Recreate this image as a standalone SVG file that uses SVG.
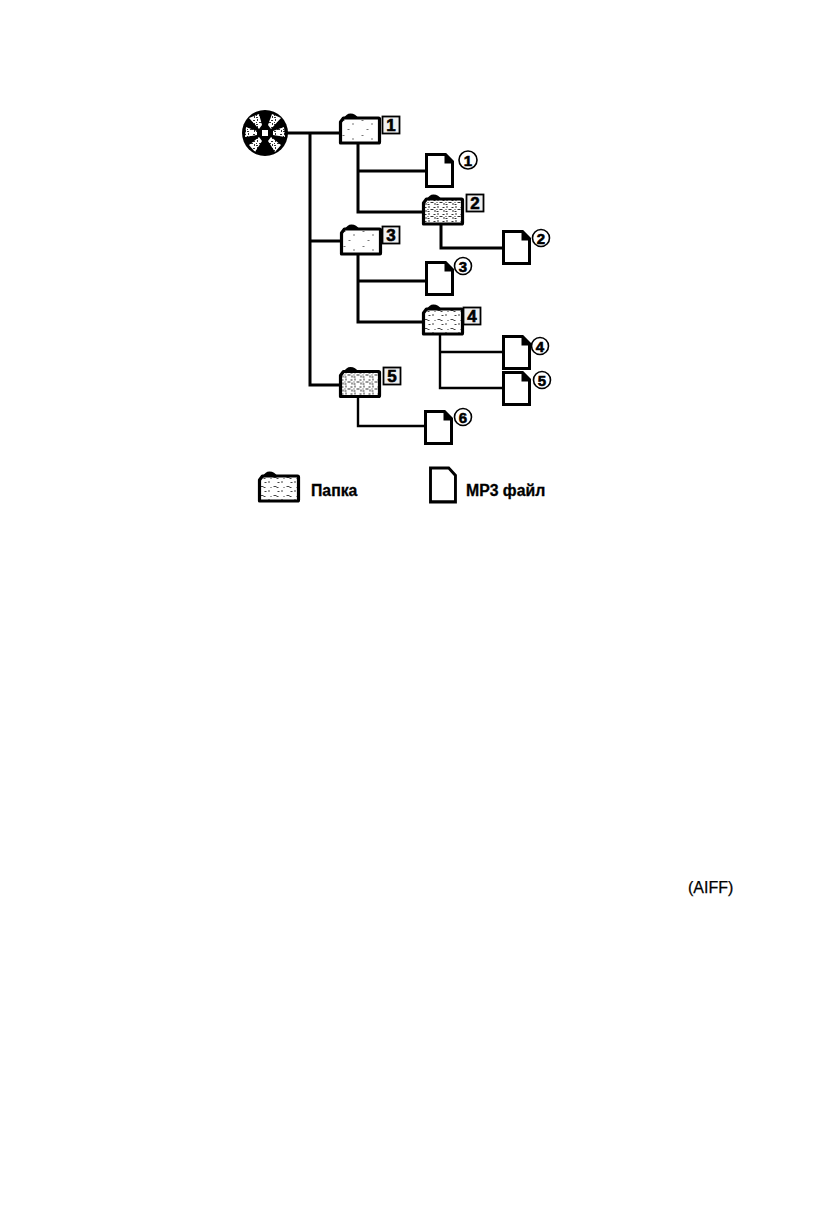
<svg xmlns="http://www.w3.org/2000/svg" width="830" height="1226" viewBox="0 0 830 1226">
<style>
.c{fill:none;stroke:#000;stroke-linecap:square}
.w3{stroke-width:3}
.w2{stroke-width:2.4}
.fo{stroke:#000;stroke-width:3.2;stroke-linejoin:round}
.fi{fill:#fff;stroke:#000;stroke-width:3;stroke-linejoin:miter}
.bx{fill:#f0f0f0;stroke:#000;stroke-width:1.8}
.ci{fill:#fff;stroke:#000;stroke-width:1.6}
.n{font-family:"Liberation Sans",Arial,sans-serif;font-weight:700;fill:#000;stroke:#000;stroke-width:.6;text-anchor:middle}
.t{font-family:"Liberation Sans",Arial,sans-serif;font-weight:700;fill:#000;stroke:#000;stroke-width:.3;font-size:15.8px}
</style>
<defs>
<pattern id="sp" width="9" height="7" patternUnits="userSpaceOnUse">
<rect width="9" height="7" fill="#fff"/>
<path d="M1 1h2v1H1zM5 0h1v2H5zM7 3h2v1H7zM2 4h1v2H2zM4 5h2v1H4zM0 3h1v1H0zM4 3h1v1H4z" fill="#333"/>
</pattern>
<pattern id="lt" width="19" height="15" patternUnits="userSpaceOnUse">
<rect width="19" height="15" fill="#fff"/>
<path d="M2 2h2v1H2zM12 5h1v2H12zM7 11h2v1H7z" fill="#777"/>
</pattern>
<pattern id="md" width="13" height="9" patternUnits="userSpaceOnUse">
<rect width="13" height="9" fill="#fff"/>
<path d="M1 1h3v1H1zM4 2h2v1H4zM9 5h1v2H9zM5 6h2v1H5zM11 2h1v1H11z" fill="#444"/>
</pattern>
<path id="fp" d="M0 25V4L3 0H38Q39 0 39 1V24Q39 25 38 25H1Q0 25 0 24Z"/>
<path id="tab" d="M3 1Q5.500 -4.500 10 -4.500Q15 -4.500 18 0.500H3Z" fill="#000"/>
<path id="dp" d="M0 0H19L26 7V32H0Z"/>
<path id="dc" d="M18 0H20L26 6V9H18Z" fill="#000"/>
</defs>

<g id="connectors">
<path class="c w3" d="M288 133H340M310 133V385H340M310 241H341"/>
<path class="c w3" d="M358 143V212H424M358 171H426"/>
<path class="c w3" d="M441 225V248H503"/>
<path class="c w3" d="M358 255V322H423M358 281H426"/>
<path class="c w2" d="M440 335V388H503M440 352H503"/>
<path class="c w2" d="M358 397V426H425"/>
</g>

<g id="disc">
<circle cx="265" cy="133" r="23" fill="#000"/>
<g fill="url(#sp)">
<path d="M262 125L259 114L249 118L259 129Z"/>
<path d="M268 125L272 114L281 118L271 129Z"/>
<path d="M257 131L246 127L245 137L257 135Z"/>
<path d="M273 131L284 127L285 137L273 135Z"/>
<path d="M259 137L249 145L255 152L262 141Z"/>
<path d="M271 137L281 145L275 152L268 141Z"/>
</g>
<rect x="262" y="130" width="6" height="6" fill="#fff"/>
</g>

<g id="folder-1" transform="translate(340.500 118)"><use href="#tab"/><use href="#fp" class="fo" fill="url(#lt)"/></g>
<g id="label-1"><rect class="bx" x="382.500" y="116.500" width="17" height="17"/><text class="n" x="391" y="131" font-size="17">1</text></g>

<g id="file-1" transform="translate(426.500 154.500)"><use href="#dp" class="fi"/><use href="#dc"/></g>
<g id="num-1"><circle class="ci" cx="468" cy="160" r="9"/><text class="n" x="468" y="165.500" font-size="15">1</text></g>

<g id="folder-2" transform="translate(423.500 199)"><use href="#tab"/><use href="#fp" class="fo" fill="url(#sp)"/></g>
<g id="label-2"><rect class="bx" x="466.500" y="194.500" width="17" height="17"/><text class="n" x="475" y="209" font-size="17">2</text></g>

<g id="file-2" transform="translate(503.500 231.500)"><use href="#dp" class="fi"/><use href="#dc"/></g>
<g id="num-2"><circle class="ci" cx="541" cy="238" r="8.500"/><text class="n" x="541" y="243.500" font-size="15">2</text></g>

<g id="folder-3" transform="translate(341.500 229)"><use href="#tab"/><use href="#fp" class="fo" fill="url(#lt)"/></g>
<g id="label-3"><rect class="bx" x="382.500" y="226.500" width="17" height="17"/><text class="n" x="391" y="241" font-size="17">3</text></g>

<g id="file-3" transform="translate(426.500 262.500)"><use href="#dp" class="fi"/><use href="#dc"/></g>
<g id="num-3"><circle class="ci" cx="463" cy="266" r="8.500"/><text class="n" x="463" y="271.500" font-size="15">3</text></g>

<g id="folder-4" transform="translate(423.500 309)"><use href="#tab"/><use href="#fp" class="fo" fill="url(#md)"/></g>
<g id="label-4"><rect class="bx" x="463.500" y="307.500" width="17" height="17"/><text class="n" x="472" y="322" font-size="17">4</text></g>

<g id="file-4" transform="translate(503.500 336.500)"><use href="#dp" class="fi"/><use href="#dc"/></g>
<g id="num-4"><circle class="ci" cx="540" cy="346" r="8.500"/><text class="n" x="540" y="351.500" font-size="15">4</text></g>

<g id="file-5" transform="translate(503.500 372.500)"><use href="#dp" class="fi"/><use href="#dc"/></g>
<g id="num-5"><circle class="ci" cx="542" cy="380" r="8.500"/><text class="n" x="542" y="385.500" font-size="15">5</text></g>

<g id="folder-5" transform="translate(340.500 371.500)"><use href="#tab"/><use href="#fp" class="fo" fill="url(#sp)"/></g>
<g id="label-5"><rect class="bx" x="383.500" y="367.500" width="17" height="17"/><text class="n" x="392" y="382" font-size="17">5</text></g>

<g id="file-6" transform="translate(425.500 411.500)"><use href="#dp" class="fi"/><use href="#dc"/></g>
<g id="num-6"><circle class="ci" cx="463" cy="417" r="8.500"/><text class="n" x="463" y="422.500" font-size="15">6</text></g>

<g id="legend-folder" transform="translate(259.500 476)"><use href="#tab"/><use href="#fp" class="fo" fill="url(#md)"/></g>
<text class="t" x="311" y="496">Папка</text>
<g id="legend-file" transform="translate(430.500 468) scale(0.96 1.06)"><use href="#dp" class="fi"/></g>
<text class="t" x="466" y="496">MP3 файл</text>

<text x="688" y="893" font-family="'Liberation Sans',Arial,sans-serif" font-size="16" fill="#000" stroke="#000" stroke-width=".25">(AIFF)</text>
</svg>
